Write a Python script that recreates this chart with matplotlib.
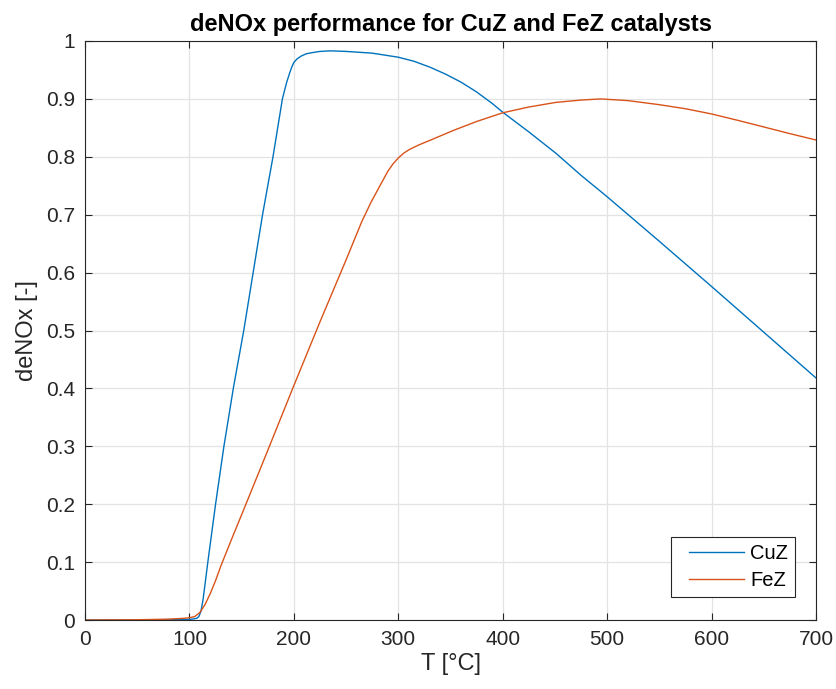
import numpy as np
import matplotlib
matplotlib.use("Agg")
import matplotlib.pyplot as plt
from matplotlib.legend_handler import HandlerLine2D

# Temperature [°C] and deNOx efficiency for each catalyst
T_cu = [0, 50, 90, 100, 104, 107, 109, 111, 113, 115, 117.6, 125, 133, 142, 152,
        161, 170, 180, 189, 193, 196, 198, 200, 203, 207, 212, 218, 225, 235,
        250, 275, 300, 315, 330, 345, 360, 375, 390, 400, 425, 451, 475, 500,
        550, 600, 650, 700]
deNOx_cu = [0.0, 0.0, 0.001, 0.001, 0.002, 0.003, 0.006, 0.015, 0.035, 0.063,
            0.1, 0.2, 0.3, 0.4, 0.5, 0.6, 0.7, 0.8, 0.9, 0.928, 0.945, 0.955,
            0.963, 0.969, 0.974, 0.978, 0.980, 0.982, 0.983, 0.982, 0.979,
            0.972, 0.965, 0.955, 0.943, 0.929, 0.912, 0.892, 0.877, 0.843,
            0.806, 0.768, 0.731, 0.654, 0.576, 0.497, 0.418]

T_fe = [0, 50, 80, 95, 100, 105, 110, 115, 120, 125, 130, 140, 150, 175, 200,
        225, 250, 265, 274, 283, 290, 295, 300, 305, 310, 319, 335, 352, 375,
        400, 425, 451, 475, 494, 520, 550, 575, 600, 625, 649, 675, 700]
deNOx_fe = [0.0, 0.0005, 0.0015, 0.003, 0.004, 0.006, 0.013, 0.027, 0.046, 0.068,
            0.093, 0.138, 0.182, 0.293, 0.405, 0.515, 0.622, 0.688, 0.722,
            0.752, 0.775, 0.788, 0.798, 0.806, 0.812, 0.82, 0.832, 0.845, 0.861,
            0.876, 0.886, 0.894, 0.898, 0.9, 0.897, 0.89, 0.883, 0.874, 0.863,
            0.852, 0.84, 0.829]

x_ticks = np.arange(0, 701, 100)
y_ticks = np.round(np.arange(0, 1.01, 0.1), 1)
y_tick_labels = ["0"] + [f"{v:g}" for v in y_ticks[1:-1]] + ["1"]

plt.rcParams["font.family"] = ["Liberation Sans", "DejaVu Sans"]
axis_col = "#262626"


class IndentedLine(HandlerLine2D):
    # legend sample line with some empty space on its left
    def create_artists(self, legend, orig_handle, xdescent, ydescent, width,
                       height, fontsize, trans):
        arts = super().create_artists(legend, orig_handle, xdescent, ydescent,
                                      width, height, fontsize, trans)
        for a in arts:
            xd = np.asarray(a.get_xdata(), dtype=float)
            if xd.size > 1:
                a.set_xdata(np.linspace(xd[0] + 8, xd[-1], xd.size))
        return arts


fig = plt.figure(figsize=(8.36, 6.89), dpi=100)
ax = fig.add_axes([0.1017, 0.1001, 0.8744, 0.8404])

ax.plot(T_cu, deNOx_cu, color="#0072BD", lw=1.0, label="CuZ")
ax.plot(T_fe, deNOx_fe, color="#D95319", lw=1.0, label="FeZ")

ax.set_xlim(0, 700)
ax.set_ylim(0, 1)
ax.set_xticks(x_ticks)
ax.set_yticks(y_ticks)
ax.set_yticklabels(y_tick_labels)
ax.grid(True, color="#e3e3e3", lw=0.9)
ax.set_axisbelow(True)
ax.tick_params(direction="in", length=5, width=0.8, top=True, right=True,
               labelsize=15, colors=axis_col, pad=7)
for sp in ax.spines.values():
    sp.set_color(axis_col)
    sp.set_linewidth(0.8)

ax.set_xlabel("T [°C]", fontsize=17, color=axis_col, labelpad=3)
ax.set_ylabel("deNOx [-]", fontsize=17, color=axis_col, labelpad=6)
ax.set_title("deNOx performance for CuZ and FeZ catalysts", fontsize=17,
             fontweight="bold", pad=7)

leg = ax.legend(loc="lower right", bbox_to_anchor=(0.9713, 0.0397),
                borderaxespad=0, fontsize=14.5, fancybox=False, framealpha=1,
                edgecolor=axis_col, handlelength=3.3, handletextpad=0.3,
                borderpad=0.35, labelspacing=0.38,
                handler_map={plt.Line2D: IndentedLine()})
leg.get_frame().set_linewidth(0.8)

fig.savefig("out.png", dpi=100)
